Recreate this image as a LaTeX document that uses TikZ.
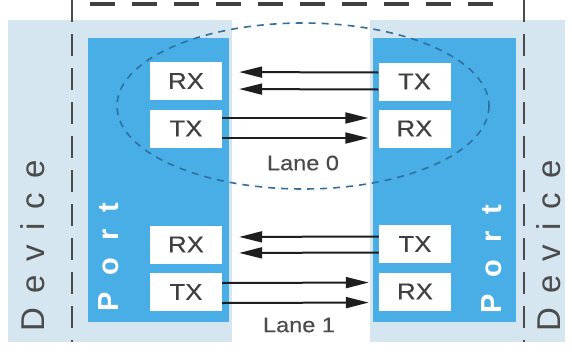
\documentclass[tikz,border=0pt]{standalone}
\usepackage{fontspec}
\setmainfont{Liberation Sans}
\newfontfamily\widefont[FakeStretch=1.12,FakeBold=0.4]{Liberation Sans}
\usetikzlibrary{arrows.meta}
\definecolor{devbg}{HTML}{D6E6F0}
\definecolor{portblue}{HTML}{4AAEE6}
\definecolor{ink}{HTML}{1E1E1E}
\definecolor{lanering}{HTML}{30709F}
% letter-spaced words
\newcommand\devword{D\kern14pt e\kern14pt v\kern14pt i\kern14pt c\kern14pt e}
\newcommand\portword{P\kern17pt o\kern17pt r\kern17pt t}
\begin{document}
\begin{tikzpicture}[x=1pt,y=-1pt,
  device/.style={fill=devbg,draw=none},
  portbox/.style={fill=portblue,draw=none},
  unit/.style={fill=white,draw=none,minimum width=72pt,minimum height=38pt,
    inner sep=0pt,font=\widefont\fontsize{23}{27}\selectfont,text=ink!85},
  link/.style={draw=ink,line width=2pt,-{Triangle[length=23pt,width=11pt]}},
  lanelabel/.style={font=\widefont\fontsize{21}{25}\selectfont,text=ink!80},
  devlabel/.style={rotate=90,font=\fontsize{33}{38}\selectfont,text=ink!80},
  portlabel/.style={rotate=90,font=\fontsize{29}{34}\selectfont\bfseries,text=white},
  border/.style={draw=ink!80,line width=1.8pt,dash pattern=on 22pt off 12pt}]
\useasboundingbox (0,0) rectangle (572,351);
\fill[white] (0,0) rectangle (572,351);

% device areas
\path[device] (8,20) rectangle (232,342);
\path[device] (370,20) rectangle (565,342);

% ports
\path[portbox] (88,38) rectangle (229,322);
\path[portbox] (373,38) rectangle (516,322);

% device boundaries
\draw[border] (72,0) -- (72,342);
\draw[border] (524,0) -- (524,342);
\draw[draw=ink!85,line width=4pt,dash pattern=on 25pt off 17pt] (90,4) -- (506,4);

% lane 0 grouping
\draw[lanering,line width=1.6pt,dash pattern=on 7pt off 6pt] (303,106) ellipse [x radius=186, y radius=83];

% transmit / receive units
\node[unit] (rxA) at (186,81) {RX};
\node[unit] (txA) at (186,128.5) {TX};
\node[unit] (txB) at (414.5,81.5) {TX};
\node[unit] (rxB) at (414.5,128.5) {RX};
\node[unit] (rxC) at (186,244.5) {RX};
\node[unit] (txC) at (186,292) {TX};
\node[unit] (txD) at (415,244) {TX};
\node[unit] (rxD) at (415,291.5) {RX};

% lane 0 links
\draw[link,shorten >=17pt] ([yshift=9pt]txB.west) -- ([yshift=9pt]rxA.east);
\draw[link,shorten >=17pt] ([yshift=-8pt]txB.west) -- ([yshift=-8pt]rxA.east);
\draw[link,shorten >=10pt] ([yshift=10.5pt]txA.east) -- ([yshift=10.5pt]rxB.west);
\draw[link,shorten >=10pt] ([yshift=-9.5pt]txA.east) -- ([yshift=-9.5pt]rxB.west);

% lane 1 links
\draw[link,shorten >=17pt] ([yshift=7.5pt]txD.west) -- ([yshift=7.5pt]rxC.east);
\draw[link,shorten >=17pt] ([yshift=-8.5pt]txD.west) -- ([yshift=-8.5pt]rxC.east);
\draw[link,shorten >=10pt] ([yshift=9pt]txC.east) -- ([yshift=9pt]rxD.west);
\draw[link,shorten >=10pt] ([yshift=-11pt]txC.east) -- ([yshift=-11pt]rxD.west);

% labels
\node[lanelabel] (lane0) at (303,163) {Lane 0};
\node[lanelabel] (lane1) at (299,325) {Lane 1};
\node[devlabel] (devL) at (33,246) {\devword};
\node[devlabel] (devR) at (549,246) {\devword};
\node[portlabel] (portL) at (109,257) {\portword};
\node[portlabel] (portR) at (492,259) {\portword};
\end{tikzpicture}
\end{document}
